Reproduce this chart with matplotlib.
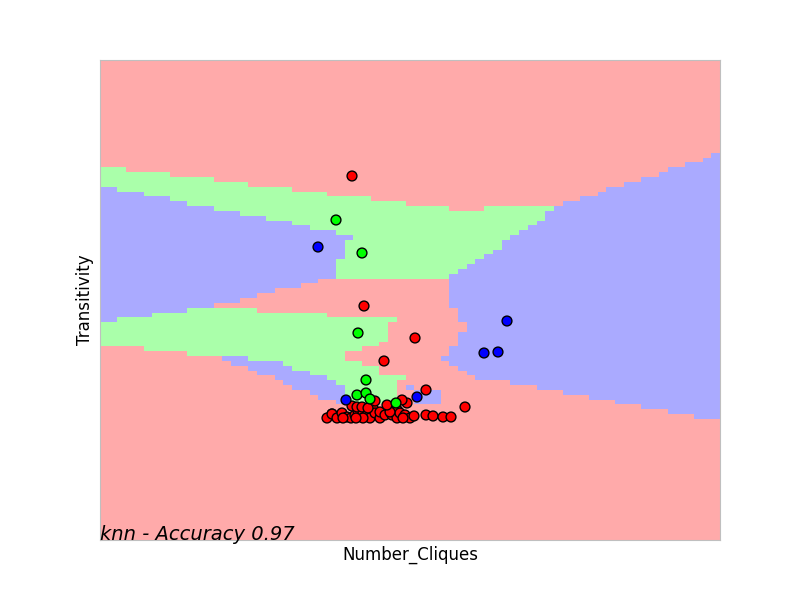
import numpy as np
import matplotlib
matplotlib.use('Agg')
import matplotlib.pyplot as plt
from matplotlib.colors import ListedColormap
from matplotlib.path import Path

# colours as in the usual knn decision-surface plot
cmap_light = ListedColormap(['#FFAAAA', '#AAFFAA', '#AAAAFF'])
cmap_bold = ListedColormap(['#FF0000', '#00FF00', '#0000FF'])

x_min, x_max = 0, 620
y_min, y_max = 0, 480
nx = 71          # mesh cells along x
h_y = 4.84       # mesh step along y

# predicted class regions (0 = red, 1 = green, 2 = blue)
green_upper = [(0, 373), (26, 373), (26, 368), (69, 368), (69, 363), (113, 363), (113, 358),
               (148, 358), (148, 353), (192, 353), (192, 349), (227, 349), (227, 344),
               (270, 344), (270, 339), (305, 339), (305, 334), (349, 334), (349, 329),
               (384, 329), (384, 334), (454, 334), (500, 290), (420, 261), (235, 261),
               (235, 280), (0, 280)]

green_lower = [(0, 240), (87, 240), (87, 232), (157, 232), (157, 227), (227, 227), (227, 223),
               (296, 223), (296, 218), (288, 218), (288, 198), (279, 198), (279, 193),
               (261, 193), (261, 189), (244, 189), (244, 179), (261, 179), (261, 174),
               (279, 174), (279, 164), (305, 164), (305, 160), (296, 160), (296, 135),
               (244, 135), (244, 155), (235, 155), (235, 160), (226, 160), (226, 164),
               (209, 164), (209, 169), (192, 169), (192, 174), (183, 174), (183, 179),
               (148, 179), (148, 184), (87, 184), (87, 189), (43, 189), (43, 193), (0, 193)]

blue_left = [(0, 353), (17, 353), (17, 349), (43, 349), (43, 344), (69, 344), (69, 339),
             (87, 339), (87, 334), (113, 334), (113, 329), (139, 329), (139, 324),
             (165, 324), (165, 320), (192, 320), (192, 315), (209, 315), (209, 310),
             (235, 310), (235, 305), (253, 305), (253, 300), (244, 300), (244, 281),
             (235, 281), (235, 261), (218, 261), (218, 256), (200, 256), (200, 252),
             (174, 252), (174, 247), (157, 247), (157, 242), (139, 242), (139, 237),
             (113, 237), (113, 232), (87, 232), (87, 227), (52, 227), (52, 223),
             (17, 223), (17, 218), (0, 218)]

blue_strip = [(122, 184), (148, 184), (148, 179), (183, 179), (183, 174), (192, 174),
              (192, 169), (209, 169), (209, 164), (226, 164), (226, 160), (235, 160),
              (235, 155), (244, 155), (244, 135), (235, 135), (235, 140), (217, 140),
              (217, 145), (209, 145), (209, 150), (192, 150), (192, 155), (183, 155),
              (183, 160), (174, 160), (174, 164), (157, 164), (157, 169), (148, 169),
              (148, 174), (130, 174), (130, 179), (122, 179)]

blue_right = [(454, 334), (462, 334), (462, 339), (480, 339), (480, 344), (497, 344),
              (497, 349), (506, 349), (506, 353), (523, 353), (523, 358), (541, 358),
              (541, 363), (558, 363), (558, 368), (567, 368), (567, 373), (585, 373),
              (585, 378), (602, 378), (602, 383), (611, 383), (611, 387), (620, 387),
              (620, 121), (593, 121), (593, 126), (567, 126), (567, 130), (541, 130),
              (541, 135), (515, 135), (515, 140), (489, 140), (489, 145), (462, 145),
              (462, 150), (436, 150), (436, 155), (410, 155), (410, 160), (375, 160),
              (375, 164), (366, 164), (366, 169), (358, 169), (358, 174), (349, 174),
              (349, 179), (340, 179), (340, 184), (349, 184), (349, 193), (358, 193),
              (358, 208), (366, 208), (366, 218), (358, 218), (358, 232), (349, 232),
              (349, 266), (358, 266), (358, 271), (366, 271), (366, 276), (375, 276),
              (375, 281), (384, 281), (384, 286), (392, 286), (392, 290), (401, 290),
              (401, 300), (410, 300), (410, 305), (419, 305), (419, 310), (427, 310),
              (427, 315), (436, 315), (436, 320), (445, 320), (445, 329), (454, 329)]

blue_patch_a = [(305, 150), (314, 150), (314, 155), (305, 155)]
blue_patch_b = [(314, 135), (340, 135), (340, 150), (314, 150)]

regions = [(1, green_upper), (1, green_lower), (2, blue_left), (2, blue_strip),
           (2, blue_right), (2, blue_patch_a), (2, blue_patch_b)]

# test points (Number_Cliques, Transitivity, class)
pts_x = [232, 238, 257, 298,
         227, 232, 237, 242, 247, 251, 255, 258, 263, 267, 270, 273, 275, 280, 280, 285,
         292, 292, 297, 297, 300, 305, 310, 314, 326, 333, 343, 351, 252, 257, 262, 268,
         290, 303, 263, 243, 256,
         252, 264, 315, 284, 326, 365, 307, 302, 275, 287,
         236, 262, 258, 266, 257, 266, 270, 296,
         218, 407, 384, 398, 246, 317]
pts_y = [126, 123, 128, 129,
         122, 126, 122, 127, 123, 122, 125, 129, 128, 125, 122, 132, 127, 122, 128, 125,
         130, 125, 122, 130, 127, 125, 122, 124, 125, 124, 123, 123, 134, 133, 133, 132,
         128, 122, 122, 122, 122,
         364, 234, 202, 179, 150, 133, 137, 140, 139, 135,
         320, 287, 207, 160, 145, 147, 141, 137,
         293, 219, 187, 188, 140, 143]
pts_cls = [1, 1, 1, 1,
           0, 0, 0, 0, 0, 0, 0, 0, 0, 0, 0, 0, 0, 0, 0, 0,
           0, 0, 0, 0, 0, 0, 0, 0, 0, 0, 0, 0, 0, 0, 0, 0,
           0, 0, 0, 0, 0,
           0, 0, 0, 0, 0, 0, 0, 0, 0, 0,
           1, 1, 1, 1, 1, 1, 1, 1,
           2, 2, 2, 2, 2, 2]

# build the mesh and fill it with the region classes
xe = np.linspace(x_min, x_max, nx + 1)
ye = np.arange(y_min, y_max + h_y, h_y)
xc = (xe[:-1] + xe[1:]) / 2
yc = (ye[:-1] + ye[1:]) / 2
xx, yy = np.meshgrid(xc, yc)
centers = np.c_[xx.ravel(), yy.ravel()]
Z = np.zeros(xx.size)
for cls, verts in regions:
    Z[Path(verts).contains_points(centers)] = cls
Z = Z.reshape(xx.shape)

fig, ax = plt.subplots(figsize=(8, 6), dpi=100)
fig.subplots_adjust(left=0.125, right=0.9, bottom=0.1, top=0.9)
ax.pcolormesh(xe, ye, Z, cmap=cmap_light, vmin=0, vmax=2)
ax.scatter(pts_x, pts_y, c=pts_cls, cmap=cmap_bold, vmin=0, vmax=2,
           edgecolor='k', s=50, zorder=3)
ax.set_xlim(x_min, x_max)
ax.set_ylim(y_min, y_max)
ax.set_xticks(())
ax.set_yticks(())
for sp in ax.spines.values():
    sp.set_color('#bfbfbf')
ax.set_xlabel('Number_Cliques', fontsize=12)
ax.set_ylabel('Transitivity', fontsize=12)
ax.text(x_min, y_min, 'knn - Accuracy 0.97', size=14, style='italic')

plt.savefig('out.png', dpi=100)
